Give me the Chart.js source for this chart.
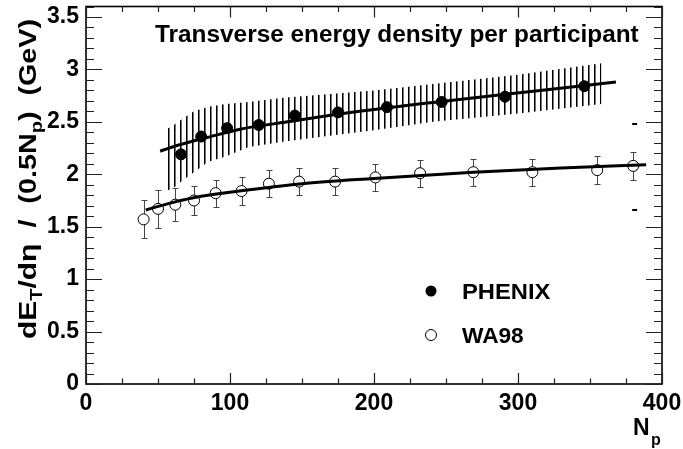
<!DOCTYPE html>
<html><head><meta charset="utf-8">
<script src="https://cdn.jsdelivr.net/npm/chart.js@4.4.1/dist/chart.umd.min.js"></script>
<style>html,body{margin:0;padding:0;background:#fff}</style>
</head><body>
<canvas id="c" width="683" height="449" style="display:block;width:683px;height:449px"></canvas>
<script>
// ---- data ----
const phenixN = [66, 80, 98, 120, 145, 175, 209, 247, 291, 346];
const phenixV = [2.19, 2.36, 2.44, 2.47, 2.56, 2.59, 2.64, 2.69, 2.74, 2.84];
const wa98N = [40, 50, 62, 75, 90, 108, 127, 148, 173, 201, 232, 269, 310, 355, 380];
const wa98V = [1.57, 1.67, 1.71, 1.75, 1.82, 1.84, 1.91, 1.93, 1.93, 1.97, 2.01, 2.02, 2.02, 2.04, 2.08];
const wa98Err = [0.18, 0.18, 0.16, 0.14, 0.13, 0.13, 0.13, 0.13, 0.13, 0.13, 0.13, 0.13, 0.13, 0.13, 0.13];
const phenixFitN = [51.5, 60, 70, 84, 107, 140, 190, 244, 309, 368];
const phenixFitV = [2.22, 2.26, 2.30, 2.35, 2.43, 2.50, 2.60, 2.69, 2.79, 2.88];
const wa98FitN = [41.5, 60, 80, 112, 150, 200, 269, 330, 389];
const wa98FitV = [1.66, 1.73, 1.79, 1.85, 1.91, 1.96, 2.02, 2.06, 2.09];
const bandN = [56, 62, 67, 75, 85, 97, 113, 137, 165, 200, 241, 300, 358];
const bandHigh = [2.43, 2.48, 2.53, 2.60, 2.645, 2.67, 2.69, 2.73, 2.76, 2.80, 2.86, 2.95, 3.06];
const bandLow = [1.84, 1.88, 1.94, 2.02, 2.12, 2.17, 2.26, 2.31, 2.36, 2.42, 2.50, 2.58, 2.67];
const markN = [381, 381];
const markV = [2.48, 1.66];
const xTicks = [0, 100, 200, 300, 400];
const yTicks = [0, 0.5, 1, 1.5, 2, 2.5, 3, 3.5];
const titleText = 'Transverse energy density per participant';
const legendLabels = ['PHENIX', 'WA98'];

const FONT = '"Liberation Sans", Arial, Helvetica, sans-serif';
const pts = (xs, ys) => xs.map((v, i) => ({x: v, y: ys[i]}));

const canvas = document.getElementById('c');
const ctx0 = canvas.getContext('2d');
const pc = document.createElement('canvas');
pc.width = 6; pc.height = 4;
const pg = pc.getContext('2d');
pg.fillStyle = '#000'; pg.fillRect(0, 0, 1, 4);
pg.fillStyle = 'rgba(0,0,0,0.55)'; pg.fillRect(1, 0, 1, 4);
const hatch = ctx0.createPattern(pc, 'repeat');

function stretchText(ctx, txt, x, y, sx) {
  ctx.save(); ctx.translate(x, y); ctx.scale(sx, 1); ctx.fillText(txt, 0, 0); ctx.restore();
}

const deco = {
  id: 'deco',
  beforeDatasetsDraw(chart) {
    const {ctx, scales: {x, y}} = chart;
    ctx.save();
    ctx.strokeStyle = '#444'; ctx.lineWidth = 1;
    wa98N.forEach((n, i) => {
      const px = Math.round(x.getPixelForValue(n)) + 0.5;
      const y1 = Math.round(y.getPixelForValue(wa98V[i] + wa98Err[i])) + 0.5;
      const y2 = Math.round(y.getPixelForValue(wa98V[i] - wa98Err[i])) + 0.5;
      ctx.beginPath();
      ctx.moveTo(px, y1); ctx.lineTo(px, y2);
      ctx.moveTo(px - 3, y1); ctx.lineTo(px + 3, y1);
      ctx.moveTo(px - 3, y2); ctx.lineTo(px + 3, y2);
      ctx.stroke();
    });
    ctx.restore();
  },
  afterDraw(chart) {
    const {ctx, chartArea: a, scales: {x, y}} = chart;
    ctx.save();
    ctx.strokeStyle = '#000';
    ctx.lineWidth = 1.6;
    ctx.strokeRect(a.left, a.top, a.right - a.left, a.bottom - a.top);
    ctx.lineWidth = 1.2;
    ctx.strokeStyle = '#222';
    ctx.beginPath();
    for (let i = 0; i <= 36; i++) {
      const py = Math.round(y.getPixelForValue(i / 10)) + 0.5;
      const len = i % 5 === 0 ? 16 : 8;
      ctx.moveTo(a.left, py); ctx.lineTo(a.left + len, py);
      ctx.moveTo(a.right, py); ctx.lineTo(a.right - len, py);
    }
    for (let i = 0; i <= 16; i++) {
      const px = Math.round(x.getPixelForValue(i * 25)) + 0.5;
      const len = i % 4 === 0 ? 11 : 5.5;
      ctx.moveTo(px, a.bottom); ctx.lineTo(px, a.bottom - len);
      ctx.moveTo(px, a.top); ctx.lineTo(px, a.top + len);
    }
    ctx.stroke();

    // title
    ctx.fillStyle = '#000';
    ctx.textBaseline = 'alphabetic';
    ctx.textAlign = 'left';
    ctx.font = 'bold 23px ' + FONT;
    stretchText(ctx, titleText, 155, 42, 1.06);

    // legend
    ctx.beginPath(); ctx.arc(431, 291, 5.5, 0, Math.PI * 2); ctx.fill();
    ctx.beginPath(); ctx.arc(431, 335, 5.5, 0, Math.PI * 2);
    ctx.fillStyle = '#fff'; ctx.fill(); ctx.lineWidth = 1; ctx.strokeStyle = '#000'; ctx.stroke();
    ctx.fillStyle = '#000';
    ctx.font = 'bold 22px ' + FONT;
    stretchText(ctx, legendLabels[0], 462, 299, 1.08);
    stretchText(ctx, legendLabels[1], 462, 343, 1.03);

    // x title
    ctx.font = 'bold 23px ' + FONT;
    ctx.fillText('N', 633, 435);
    ctx.font = 'bold 16px ' + FONT;
    ctx.fillText('p', 651, 445);

    // y title (rotated)
    const segs = [
      {t: 'dE', s: 24, dy: 0},
      {t: 'T', s: 16, dy: 6},
      {t: '/d\u03B7', s: 24, dy: 0},
      {t: '  /  ', s: 23, dy: 0},
      {t: '(0.5N', s: 23, dy: 0},
      {t: 'p', s: 16, dy: 6},
      {t: ')  ', s: 23, dy: 0},
      {t: '(GeV)', s: 23, dy: 0}
    ];
    let total = 0;
    segs.forEach(sg => { ctx.font = 'bold ' + sg.s + 'px ' + FONT; sg.w = ctx.measureText(sg.t).width; total += sg.w; });
    const sx = 1.25;
    const span = total * sx;
    ctx.translate(36, 179 + span / 2);
    ctx.rotate(-Math.PI / 2);
    let cx = 0;
    segs.forEach(sg => {
      ctx.font = 'bold ' + sg.s + 'px ' + FONT;
      ctx.save(); ctx.translate(cx, sg.dy); ctx.scale(sx, 1); ctx.fillText(sg.t, 0, 0); ctx.restore();
      cx += sg.w * sx;
    });
    ctx.restore();
  }
};

function noPad(s) { s.paddingTop = 0; s.paddingBottom = 0; s.paddingLeft = 0; s.paddingRight = 0; }

new Chart(canvas, {
  type: 'scatter',
  data: {
    datasets: [
      {data: pts(phenixFitN, phenixFitV), showLine: true, borderColor: '#000', borderWidth: 3, pointRadius: 0, cubicInterpolationMode: 'monotone', fill: false},
      {data: pts(wa98FitN, wa98FitV), showLine: true, borderColor: '#000', borderWidth: 3, pointRadius: 0, cubicInterpolationMode: 'monotone', fill: false},
      {data: pts(phenixN, phenixV), showLine: false, pointRadius: 5.5, pointBackgroundColor: '#000', pointBorderColor: '#000', pointBorderWidth: 1},
      {data: pts(wa98N, wa98V), showLine: false, pointRadius: 5.5, pointBackgroundColor: '#fff', pointBorderColor: '#000', pointBorderWidth: 1},
      {data: pts(markN, markV), showLine: false, pointStyle: 'line', pointRadius: 2.5, pointBorderColor: '#000', pointBorderWidth: 2},
      {data: pts(bandN, bandHigh), showLine: true, borderWidth: 0, borderColor: 'rgba(0,0,0,0)', pointRadius: 0, fill: '+1', backgroundColor: hatch},
      {data: pts(bandN, bandLow), showLine: true, borderWidth: 0, borderColor: 'rgba(0,0,0,0)', pointRadius: 0, fill: false}
    ]
  },
  options: {
    responsive: false,
    animation: false,
    devicePixelRatio: 1,
    layout: {padding: {top: 4, right: 21, left: 0, bottom: 0}},
    plugins: {legend: {display: false}, tooltip: {enabled: false}, title: {display: false}},
    scales: {
      x: {
        type: 'linear', min: 0, max: 400,
        afterBuildTicks: s => { s.ticks = xTicks.map(v => ({value: v})); },
        ticks: {color: '#000', font: {family: FONT, size: 23, weight: 'bold'}, padding: 6, maxRotation: 0, callback: v => String(v)},
        grid: {display: false, drawTicks: false},
        border: {display: false},
        afterFit: s => { s.height = 65; noPad(s); }
      },
      y: {
        type: 'linear', min: 0, max: 3.6,
        afterBuildTicks: s => { s.ticks = yTicks.map(v => ({value: v})); },
        ticks: {color: '#000', font: {family: FONT, size: 23, weight: 'bold'}, padding: 7, callback: v => String(v)},
        grid: {display: false, drawTicks: false},
        border: {display: false},
        afterFit: s => { s.width = 86; noPad(s); }
      }
    }
  },
  plugins: [deco]
});
</script>
</body></html>
